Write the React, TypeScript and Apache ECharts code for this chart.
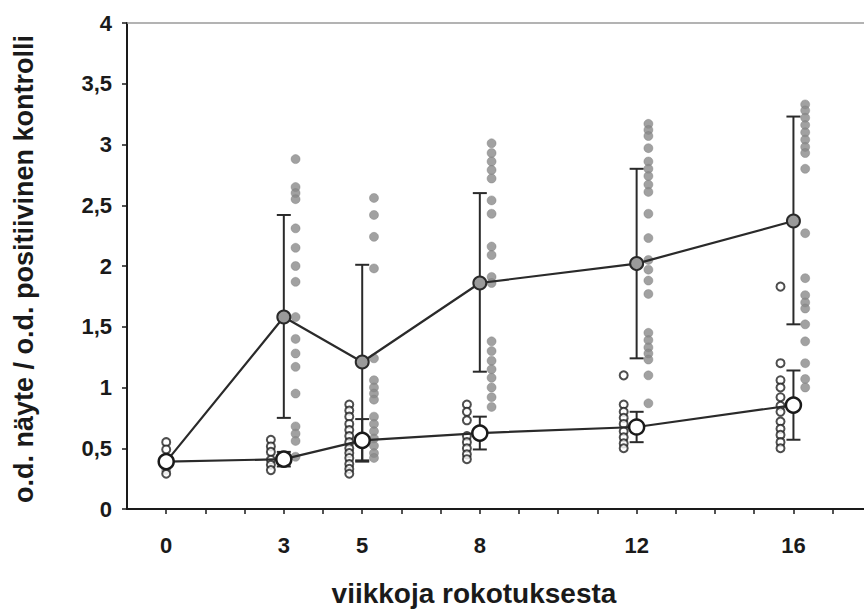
import React, { useEffect, useRef } from "react";
import * as echarts from "echarts";

// Weeks after vaccination (x positions of the groups)
const times = [0, 3, 5, 8, 12, 16];
const xTickValues = [0, 1, 2, 3, 4, 5, 6, 7, 8, 9, 10, 11, 12, 13, 14, 15, 16, 17];
const xLabelValues = [0, 3, 5, 8, 12, 16];

// Group 1 (grey markers): mean and mean ± SD
const upperMean = [0.39, 1.58, 1.21, 1.86, 2.02, 2.37];
const upperLow = [null, 0.75, 0.40, 1.13, 1.24, 1.52];
const upperHigh = [null, 2.42, 2.01, 2.60, 2.80, 3.23];

// Group 2 (white markers): mean and mean ± SD
const lowerMean = [0.39, 0.41, 0.565, 0.625, 0.675, 0.855];
const lowerLow = [null, 0.35, 0.39, 0.49, 0.55, 0.57];
const lowerHigh = [null, 0.47, 0.74, 0.76, 0.80, 1.14];

// Individual values, group 1 (grey dots)
const gray0 = [0.32];
const gray3 = [2.88, 2.65, 2.6, 2.55, 2.31, 2.15, 2.0, 1.87, 1.58, 1.4, 1.28, 1.17, 0.95, 0.68, 0.62, 0.56, 0.43];
const gray5 = [2.56, 2.42, 2.24, 1.98, 1.24, 1.06, 1.0, 0.95, 0.9, 0.76, 0.7, 0.64, 0.58, 0.52, 0.46, 0.42];
const gray8 = [3.01, 2.93, 2.86, 2.79, 2.72, 2.54, 2.43, 2.16, 2.09, 1.91, 1.86, 1.38, 1.3, 1.22, 1.15, 1.08, 1.0, 0.92, 0.84];
const gray12 = [3.17, 3.12, 3.07, 2.97, 2.86, 2.8, 2.74, 2.67, 2.61, 2.43, 2.23, 2.05, 1.97, 1.88, 1.77, 1.45, 1.39, 1.33, 1.28, 1.23, 1.1, 0.87];
const gray16 = [3.33, 3.28, 3.22, 3.16, 3.1, 3.04, 2.98, 2.93, 2.8, 2.27, 1.9, 1.76, 1.7, 1.65, 1.52, 1.38, 1.2, 1.07, 1.0];

// Individual values, group 2 (open circles)
const white0 = [0.55, 0.49, 0.29];
const white3 = [0.57, 0.515, 0.47, 0.405, 0.364, 0.32];
const white5 = [0.86, 0.81, 0.76, 0.7, 0.65, 0.6, 0.55, 0.5, 0.46, 0.42, 0.37, 0.33, 0.29];
const white8 = [0.86, 0.8, 0.73, 0.6, 0.55, 0.5, 0.45, 0.41];
const white12 = [1.1, 0.86, 0.8, 0.75, 0.7, 0.64, 0.59, 0.54, 0.5];
const white16 = [1.83, 1.2, 1.06, 1.0, 0.92, 0.85, 0.8, 0.72, 0.66, 0.61, 0.55, 0.5];

const grayByTime = [gray0, gray3, gray5, gray8, gray12, gray16];
const whiteByTime = [white0, white3, white5, white8, white12, white16];

const xTitle = "viikkoja rokotuksesta";
const yTitle = "o.d. näyte / o.d. positiivinen kontrolli";

const FONT = "'Liberation Sans', Arial, Helvetica, sans-serif";
const GRAY_OFFSET = 0.3;
const WHITE_OFFSET = -0.33;

function scatterData(groups: number[][], offset: number) {
  const out: number[][] = [];
  groups.forEach((vals, i) => {
    const t = times[i];
    const x = t === 0 ? t : t + offset;
    vals.forEach((v) => out.push([x, v]));
  });
  return out;
}

function errData(low: (number | null)[], high: (number | null)[]) {
  const out: number[][] = [];
  times.forEach((t, i) => {
    if (low[i] != null && high[i] != null) out.push([t, low[i] as number, high[i] as number]);
  });
  return out;
}

function errorRender(color: string) {
  return (params: any, api: any) => {
    const x = api.value(0);
    const lo = api.coord([x, api.value(1)]);
    const hi = api.coord([x, api.value(2)]);
    const hw = 7;
    const style = { stroke: color, lineWidth: 2 };
    return {
      type: "group",
      children: [
        { type: "line", shape: { x1: lo[0], y1: lo[1], x2: hi[0], y2: hi[1] }, style },
        { type: "line", shape: { x1: lo[0] - hw, y1: lo[1], x2: lo[0] + hw, y2: lo[1] }, style },
        { type: "line", shape: { x1: hi[0] - hw, y1: hi[1], x2: hi[0] + hw, y2: hi[1] }, style },
      ],
    };
  };
}

export default function App() {
  const ref = useRef<HTMLDivElement>(null);

  useEffect(() => {
    if (!ref.current) return;
    const chart = echarts.init(ref.current, undefined, { renderer: "svg" });
    const option: any = {
      animation: false,
      backgroundColor: "#ffffff",
      grid: { left: 127, right: 0, top: 23, bottom: 102, containLabel: false, outerBoundsMode: "none" },
      xAxis: {
        type: "value",
        min: -1,
        max: 17.8,
        axisLine: { show: true, onZero: false, lineStyle: { color: "#1a1a1a", width: 2 } },
        axisTick: { show: true, customValues: xTickValues, length: 5, inside: false, lineStyle: { color: "#1a1a1a", width: 1.5 } },
        axisLabel: { customValues: xLabelValues, color: "#1a1a1a", fontFamily: FONT, fontWeight: "bold", fontSize: 22, margin: 25 },
        splitLine: { show: false },
      },
      yAxis: {
        type: "value",
        min: 0,
        max: 4,
        interval: 0.5,
        axisLine: { show: true, onZero: false, lineStyle: { color: "#1a1a1a", width: 2 } },
        axisTick: { show: true, length: 5, lineStyle: { color: "#1a1a1a", width: 1.5 } },
        axisLabel: {
          color: "#1a1a1a",
          fontFamily: FONT,
          fontWeight: "bold",
          fontSize: 22,
          margin: 15,
          formatter: (v: number) => String(v).replace(".", ","),
        },
        splitLine: { show: false },
      },
      graphic: [
        {
          type: "text",
          x: 474,
          y: 593,
          style: { text: xTitle, font: `bold 28px ${FONT}`, fill: "#1a1a1a", align: "center", verticalAlign: "middle" },
        },
        {
          type: "text",
          x: 24,
          y: 269,
          rotation: Math.PI / 2,
          style: { text: yTitle, font: `bold 27px ${FONT}`, fill: "#1a1a1a", align: "center", verticalAlign: "middle" },
        },
      ],
      series: [
        {
          type: "scatter",
          name: "ryhmä 1 yksittäiset",
          data: scatterData(grayByTime, GRAY_OFFSET),
          symbol: "circle",
          symbolSize: 9,
          itemStyle: { color: "#8a8a8a", borderColor: "#7a7a7a", borderWidth: 0.5 },
          z: 2,
          markLine: {
            silent: true,
            symbol: "none",
            label: { show: false },
            lineStyle: { color: "#9a9a9a", width: 1.5, type: "solid" },
            data: [{ yAxis: 4 }],
          },
        },
        {
          type: "scatter",
          name: "ryhmä 2 yksittäiset",
          data: scatterData(whiteByTime, WHITE_OFFSET),
          symbol: "circle",
          symbolSize: 8,
          itemStyle: { color: "#ffffff", borderColor: "#222", borderWidth: 2 },
          z: 3,
        },
        {
          type: "custom",
          name: "ryhmä 1 SD",
          data: errData(upperLow, upperHigh),
          renderItem: errorRender("#2a2a2a"),
          z: 4,
        },
        {
          type: "custom",
          name: "ryhmä 2 SD",
          data: errData(lowerLow, lowerHigh),
          renderItem: errorRender("#2a2a2a"),
          z: 4,
        },
        {
          type: "line",
          name: "ryhmä 1",
          data: times.map((t, i) => [t, upperMean[i]]),
          symbol: "circle",
          symbolSize: 13,
          showAllSymbol: true,
          lineStyle: { color: "#2a2a2a", width: 2.2 },
          itemStyle: { color: "#9a9a9a", borderColor: "#2a2a2a", borderWidth: 2 },
          z: 5,
        },
        {
          type: "line",
          name: "ryhmä 2",
          data: times.map((t, i) => [t, lowerMean[i]]),
          symbol: "circle",
          symbolSize: 15,
          showAllSymbol: true,
          lineStyle: { color: "#2a2a2a", width: 2.2 },
          itemStyle: { color: "#ffffff", borderColor: "#1a1a1a", borderWidth: 2.5 },
          z: 6,
        },
      ],
    };
    chart.setOption(option);
    return () => chart.dispose();
  }, []);

  return (
    <div
      ref={ref}
      style={{ position: "fixed", left: 0, top: 0, width: 864, height: 611, background: "#fff" }}
    />
  );
}
